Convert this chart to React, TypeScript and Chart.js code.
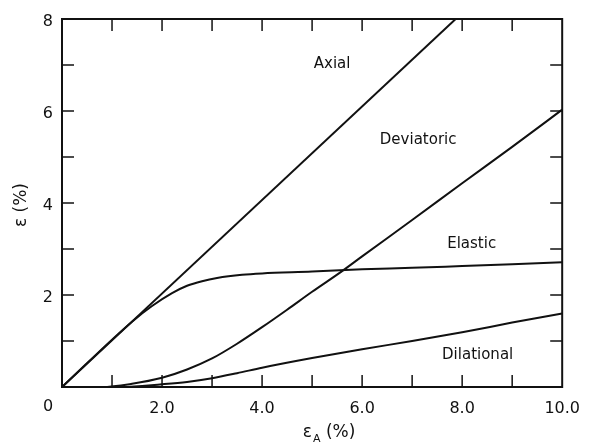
import React, { useEffect, useRef } from "react";
import { Chart, registerables } from "chart.js";

Chart.register(...registerables);

// ---- data ----
const axialX = [0, 7.87];
const axialY = [0, 8.0];

const elasticX = [0, 1.4, 1.8, 2.2, 2.5, 2.8, 3.1, 3.6, 4.0, 5.0, 6.0, 7.0, 8.0, 9.0, 10.0];
const elasticY = [0, 1.42, 1.76, 2.04, 2.2, 2.3, 2.37, 2.44, 2.47, 2.51, 2.56, 2.59, 2.63, 2.67, 2.71];

const deviatoricX = [0, 0.8, 1.4, 2.0, 2.5, 3.0, 3.5, 4.0, 4.5, 5.0, 5.6, 6.0, 7.0, 8.0, 9.0, 10.0];
const deviatoricY = [0, 0, 0.07, 0.2, 0.38, 0.62, 0.94, 1.3, 1.68, 2.07, 2.52, 2.84, 3.63, 4.43, 5.22, 6.03];

const dilationalX = [0, 1.2, 2.0, 2.5, 3.0, 3.5, 4.0, 5.0, 6.0, 7.0, 8.0, 9.0, 10.0];
const dilationalY = [0, 0, 0.06, 0.11, 0.19, 0.3, 0.42, 0.63, 0.82, 1.0, 1.19, 1.4, 1.6];

// curve annotations (text, x, y in data units)
const curveLabels = ["Axial", "Deviatoric", "Elastic", "Dilational"];
const curveLabelX = [5.4, 7.12, 8.19, 8.31];
const curveLabelY = [7.02, 5.37, 3.11, 0.7];

const xMin = 0, xMax = 10, yMin = 0, yMax = 8;
const xTitleMain = "\u03B5";
const xTitleSub = "A";
const xTitleTail = " (%)";
const yTitle = "\u03B5 (%)";
const cornerLabel = "0";

const INK = "#111";
const FONT = '"DejaVu Sans", sans-serif';

export default function App() {
  const ref = useRef<HTMLCanvasElement>(null);

  useEffect(() => {
    const canvas = ref.current;
    if (!canvas) return;
    const pts = (xs: number[], ys: number[]) => xs.map((x, i) => ({ x, y: ys[i] }));
    const ds = (label: string, xs: number[], ys: number[], smooth: boolean) => ({
      label,
      data: pts(xs, ys),
      borderColor: INK,
      borderWidth: 2,
      pointRadius: 0,
      fill: false,
      tension: smooth ? 0.4 : 0,
      cubicInterpolationMode: smooth ? "monotone" : "default",
    });

    const decor = {
      id: "decor",
      afterDraw(chart: any) {
        const { ctx, chartArea, scales } = chart;
        const { left, right, top, bottom } = chartArea;
        const x = scales.x;
        const y = scales.y;
        ctx.save();
        ctx.strokeStyle = INK;
        ctx.fillStyle = INK;
        ctx.lineWidth = 2;
        ctx.strokeRect(left, top, right - left, bottom - top);
        ctx.lineWidth = 1.5;
        const seg = (a: number, b: number, c: number, d: number) => {
          ctx.beginPath();
          ctx.moveTo(a, b);
          ctx.lineTo(c, d);
          ctx.stroke();
        };
        for (let v = xMin + 1; v < xMax; v++) {
          const px = x.getPixelForValue(v);
          seg(px, bottom, px, bottom - 12);
          seg(px, top, px, top + 12);
        }
        for (let v = yMin + 1; v < yMax; v++) {
          const py = y.getPixelForValue(v);
          seg(left, py, left + 12, py);
          seg(right, py, right - 12, py);
        }
        // corner "0"
        ctx.font = `16px ${FONT}`;
        ctx.textAlign = "center";
        ctx.textBaseline = "middle";
        ctx.fillText(cornerLabel, left - 14, bottom + 20);

        // curve labels
        ctx.font = `15px ${FONT}`;
        curveLabels.forEach((t, i) => {
          ctx.fillText(t, x.getPixelForValue(curveLabelX[i]), y.getPixelForValue(curveLabelY[i]));
        });

        // y title
        ctx.save();
        ctx.font = `17px ${FONT}`;
        ctx.translate(22, (top + bottom) / 2 + 2);
        ctx.rotate(-Math.PI / 2);
        ctx.fillText(yTitle, 0, 0);
        ctx.restore();

        // x title with subscript
        ctx.textAlign = "left";
        const big = `17px ${FONT}`;
        const small = `11px ${FONT}`;
        ctx.font = big;
        const w1 = ctx.measureText(xTitleMain).width;
        const w3 = ctx.measureText(xTitleTail).width;
        ctx.font = small;
        const w2 = ctx.measureText(xTitleSub).width;
        const total = w1 + w2 + 1 + w3;
        const cx = (left + right) / 2 + 17;
        const ty = bottom + 46;
        let sx = cx - total / 2;
        ctx.font = big;
        ctx.fillText(xTitleMain, sx, ty);
        sx += w1 + 1;
        ctx.font = small;
        ctx.fillText(xTitleSub, sx, ty + 6);
        sx += w2;
        ctx.font = big;
        ctx.fillText(xTitleTail, sx, ty);
        ctx.restore();
      },
    };

    const chart = new Chart(canvas, {
      type: "line",
      data: {
        datasets: [
          ds("Axial", axialX, axialY, false),
          ds("Elastic", elasticX, elasticY, true),
          ds("Deviatoric", deviatoricX, deviatoricY, true),
          ds("Dilational", dilationalX, dilationalY, true),
        ] as any,
      },
      options: {
        responsive: true,
        maintainAspectRatio: false,
        animation: false,
        layout: { padding: { left: 0, right: 27, top: 19, bottom: 0 } },
        plugins: { legend: { display: false }, tooltip: { enabled: false } },
        scales: {
          x: {
            type: "linear",
            min: xMin,
            max: xMax,
            grid: { display: false, drawTicks: false },
            border: { display: false },
            ticks: {
              stepSize: 1,
              autoSkip: false,
              maxRotation: 0,
              padding: 12,
              color: INK,
              font: { family: FONT, size: 16 },
              callback: (v: any) => (v % 2 === 0 && v !== 0 ? Number(v).toFixed(1) : ""),
            },
            afterFit: (s: any) => {
              s.height = 59;
            },
          },
          y: {
            type: "linear",
            min: yMin,
            max: yMax,
            grid: { display: false, drawTicks: false },
            border: { display: false },
            ticks: {
              stepSize: 1,
              autoSkip: false,
              padding: 9,
              labelOffset: 3,
              color: INK,
              font: { family: FONT, size: 16 },
              callback: (v: any) => (v % 2 === 0 && v !== 0 ? String(v) : ""),
            },
            afterFit: (s: any) => {
              s.width = 62;
            },
          },
        },
      } as any,
      plugins: [decor],
    });
    return () => chart.destroy();
  }, []);

  return (
    <div style={{ position: "fixed", left: 0, top: 0, width: 592, height: 446, background: "#fff" }}>
      <canvas ref={ref} />
    </div>
  );
}
